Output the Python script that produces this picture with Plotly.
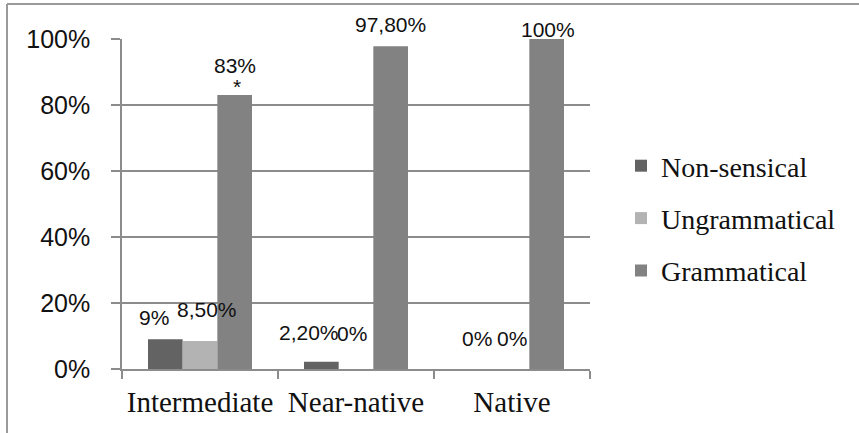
import plotly.graph_objects as go

# Proficiency groups and response-type shares (%)
groups = ["Intermediate", "Near-native", "Native"]
series_names = ["Non-sensical", "Ungrammatical", "Grammatical"]
non_sensical = [9, 2.2, 0]
ungrammatical = [8.5, 0, 0]
grammatical = [83, 97.8, 100]
y_ticks = [0, 20, 40, 60, 80, 100]

series_values = [non_sensical, ungrammatical, grammatical]
colors = ["#636363", "#b3b3b3", "#828282"]

# per-label nudges (pixels) relative to the bar centre / bar top
label_dx = [[-11, -12, 0], [7, -4, 0], [0, 0, 1]]
label_dy = [[22, 29, 31], [31, 36, 31], [30, 22, 10]]

W, H = 859, 433
M_L, M_R, M_T, M_B = 122, 269, 39, 64
BARGAP = 1 / 3
LABEL_FONT = dict(family="Liberation Sans, Arial, sans-serif", size=21, color="#111111")


def fmt_pct(v):
    if float(v).is_integer():
        return f"{int(v)}%"
    return f"{v:.2f}".replace(".", ",") + "%"


fig = go.Figure()
for name, vals, col in zip(series_names, series_values, colors):
    fig.add_trace(go.Bar(
        x=groups, y=vals, name=name, legendgroup=name,
        marker=dict(color=col, line=dict(width=0)),
        hoverinfo="skip",
    ))

bar_w = (1 - BARGAP) / len(series_values)
annotations = []
for j, vals in enumerate(series_values):
    for i, v in enumerate(vals):
        xc = i + (j - (len(series_values) - 1) / 2) * bar_w
        annotations.append(dict(
            x=xc, y=v, xref="x", yref="y", text=fmt_pct(v),
            showarrow=False, xanchor="center", yanchor="middle",
            xshift=label_dx[j][i], yshift=label_dy[j][i],
            font=LABEL_FONT,
        ))

# significance marker above the intermediate grammatical bar
annotations.append(dict(
    x=0 + bar_w, y=grammatical[0], xref="x", yref="y", text="*",
    showarrow=False, xanchor="center", yanchor="bottom",
    height=14, valign="top", xshift=2, yshift=4,
    font=LABEL_FONT,
))

pw = W - M_L - M_R
ph = H - M_T - M_B


def px_x(p):
    return (p - M_L) / pw


def px_y(p):
    return ((H - M_B) - p) / ph


border = dict(color="#9a9a9a", width=2)
shapes = [
    # outer frame: top and left edges of the chart box
    dict(type="line", xref="paper", yref="paper",
         x0=px_x(7), x1=px_x(W + 5), y0=px_y(4), y1=px_y(4), line=border, layer="below"),
    dict(type="line", xref="paper", yref="paper",
         x0=px_x(7), x1=px_x(7), y0=px_y(4), y1=px_y(H + 5), line=border, layer="below"),
]

grid = "#8c8c8c"
fig.update_layout(
    width=W, height=H,
    margin=dict(l=M_L, r=M_R, t=M_T, b=M_B, pad=0, autoexpand=False),
    paper_bgcolor="white", plot_bgcolor="white",
    barmode="group", bargap=BARGAP, bargroupgap=0,
    annotations=annotations, shapes=shapes,
    showlegend=True,
    legend=dict(
        x=px_x(621), xanchor="left",
        y=px_y(141), yanchor="top",
        font=dict(family="Liberation Serif, Times New Roman, serif", size=28, color="#111111"),
        tracegroupgap=13, traceorder="grouped",
        bgcolor="rgba(0,0,0,0)",
    ),
    xaxis=dict(
        type="category", tickson="boundaries", ticks="outside", ticklen=8,
        tickcolor=grid, tickwidth=1.5, tickangle=0, automargin=False,
        showline=True, linecolor=grid, linewidth=1.5,
        tickfont=dict(family="Liberation Serif, Times New Roman, serif", size=29, color="#111111"),
        ticklabelstandoff=6,
        showgrid=False, fixedrange=True,
    ),
    yaxis=dict(
        range=[0, 100], tickvals=y_ticks, ticktext=[f"{t}%" for t in y_ticks],
        ticks="outside", ticklen=9, tickcolor=grid, tickwidth=1.5,
        showline=True, linecolor=grid, linewidth=1.5, automargin=False,
        showgrid=True, gridcolor=grid, gridwidth=1.5,
        zeroline=False, ticklabelstandoff=16,
        tickfont=dict(family="Liberation Sans, Arial, sans-serif", size=25, color="#111111"),
        fixedrange=True,
    ),
)

fig.write_html("out.html", config={"displayModeBar": False})
